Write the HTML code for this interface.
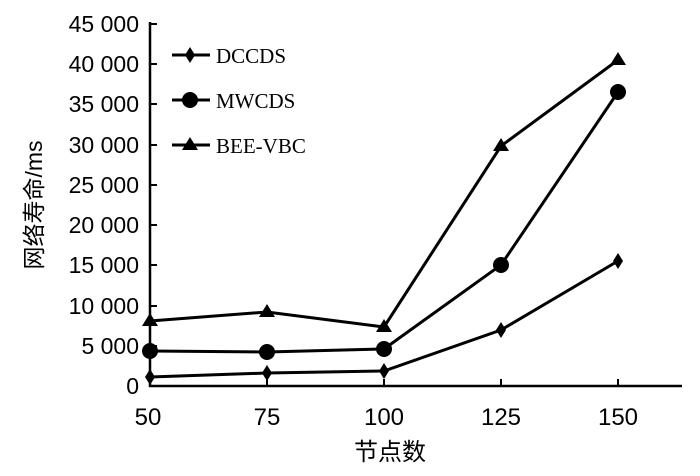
<!DOCTYPE html><html><head><style>body{margin:0;background:#fff}svg{display:block}</style></head><body>
<svg width="700" height="476" xmlns="http://www.w3.org/2000/svg">
<g stroke="#000" stroke-width="2.5" fill="none">
<line x1="150" y1="22" x2="150" y2="387"/>
<line x1="149" y1="386" x2="682" y2="386"/>
</g>
<g stroke="#000" stroke-width="2">
<line x1="150" y1="24" x2="157" y2="24"/><line x1="150" y1="64" x2="157" y2="64"/><line x1="150" y1="104" x2="157" y2="104"/><line x1="150" y1="145" x2="157" y2="145"/><line x1="150" y1="185" x2="157" y2="185"/><line x1="150" y1="225" x2="157" y2="225"/><line x1="150" y1="306" x2="157" y2="306"/><line x1="150" y1="346" x2="157" y2="346"/><line x1="150" y1="265" x2="157" y2="265"/>
<line x1="267" y1="386" x2="267" y2="379"/><line x1="384" y1="386" x2="384" y2="379"/><line x1="501" y1="386" x2="501" y2="379"/><line x1="618" y1="386" x2="618" y2="379"/>
</g>
<g font-family="Liberation Sans, sans-serif" font-size="23" text-anchor="end" fill="#000">
<text x="139" y="32">45 000</text><text x="139" y="72">40 000</text><text x="139" y="112">35 000</text><text x="139" y="153">30 000</text><text x="139" y="193">25 000</text><text x="139" y="233">20 000</text><text x="139" y="273">15 000</text><text x="139" y="314">10 000</text><text x="139" y="354">5 000</text><text x="139" y="394">0</text>
</g>
<g font-family="Liberation Sans, sans-serif" font-size="24" text-anchor="middle">
<text x="148" y="425">50</text><text x="267" y="425">75</text><text x="384" y="425">100</text><text x="501" y="425">125</text><text x="618" y="425">150</text>
<text x="390" y="460" font-family="Liberation Sans, Noto Sans CJK SC, sans-serif">节点数</text>
<text transform="translate(42,205) rotate(-90)" font-family="Liberation Sans, Noto Sans CJK SC, sans-serif" font-size="23">网络寿命/ms</text>
</g>
<g stroke="#000" stroke-width="3" fill="none">
<polyline points="150,321 267,312 384,327 501,146 618,60"/>
<polyline points="150,351 267,352 384,349 501,265 618,92"/>
<polyline points="150,377 267,373 384,371 501,330 618,261"/>
<line x1="172" y1="55" x2="210" y2="55"/><line x1="172" y1="100" x2="210" y2="100"/><line x1="172" y1="145" x2="210" y2="145"/>
</g>
<g fill="#000">
<path d="M150,313l8,13h-16z M267,304l8,13h-16z M384,319l8,13h-16z M501,138l8,13h-16z M618,52l8,13h-16z M190,137l8,13h-16z"/>
<circle cx="150" cy="351" r="8"/><circle cx="267" cy="352" r="8"/><circle cx="384" cy="349" r="8"/><circle cx="501" cy="265" r="8"/><circle cx="618" cy="92" r="8"/><circle cx="190" cy="100" r="8"/>
<path d="M150,369l5,8l-5,8l-5,-8z M267,365l5,8l-5,8l-5,-8z M384,363l5,8l-5,8l-5,-8z M501,322l5,8l-5,8l-5,-8z M618,253l5,8l-5,8l-5,-8z M190,47l5,8l-5,8l-5,-8z"/>
</g>
<g font-family="Liberation Serif, serif" font-size="21">
<text x="216" y="63">DCCDS</text><text x="216" y="108">MWCDS</text><text x="216" y="153">BEE-VBC</text>
</g>
</svg></body></html>
